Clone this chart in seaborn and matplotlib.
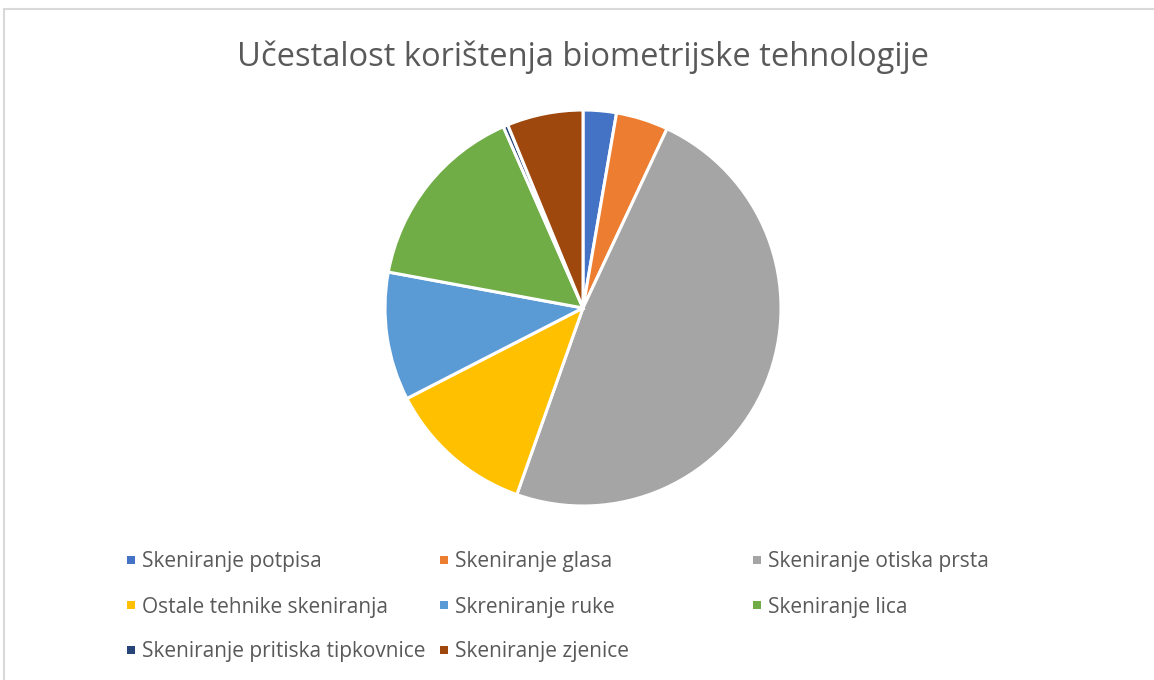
import matplotlib
matplotlib.use("Agg")
import matplotlib.pyplot as plt
from matplotlib.patches import Rectangle
import seaborn as sns

labels = ["Skeniranje potpisa", "Skeniranje glasa", "Skeniranje otiska prsta",
          "Ostale tehnike skeniranja", "Skreniranje ruke", "Skeniranje lica",
          "Skeniranje pritiska tipkovnice", "Skeniranje zjenice"]
values = [7, 11, 125, 31, 27, 40, 1, 16]
colors = ["#4472C4", "#ED7D31", "#A5A5A5", "#FFC000", "#5B9BD5", "#70AD47", "#264478", "#9E480E"]
title = "Učestalost korištenja biometrijske tehnologije"

sns.set_theme(style="white")
plt.rcParams['font.family'] = ['Open Sans', 'DejaVu Sans']
palette = sns.color_palette(colors)

W, H = 1154, 680
fig = plt.figure(figsize=(W / 100, H / 100), dpi=100)
fig.patch.set_facecolor("white")

# outer chart border
fig.add_artist(Rectangle((4 / W, -0.01), 1.1, (H - 9) / H + 0.01, transform=fig.transFigure,
                         fill=False, edgecolor="#D9D9D9", linewidth=1.5))

cx, cy, r = 583, 308, 198
ax = fig.add_axes([(cx - r) / W, (H - cy - r) / H, 2 * r / W, 2 * r / H])
ax.pie(values, colors=palette, startangle=90, counterclock=False, radius=1,
       wedgeprops=dict(edgecolor="white", linewidth=2.2, clip_on=False))
ax.set_xlim(-1.0, 1.0)
ax.set_ylim(-1.0, 1.0)
ax.set_aspect("equal")
ax.axis("off")

fig.text(583 / W, 1 - 57 / H, title, ha="center", va="center", fontsize=23.5, color="#595959")

col_x = [127, 440, 753]
row_y = [560, 605, 650]
for i, lab in enumerate(labels):
    c, rr = i % 3, i // 3
    x, y = col_x[c], row_y[rr]
    fig.add_artist(Rectangle((x / W, (H - y - 4) / H), 8 / W, 8 / H, transform=fig.transFigure,
                             facecolor=palette[i], edgecolor="none"))
    fig.text((x + 15) / W, (H - y - 2) / H, lab, ha="left", va="center", fontsize=15, color="#595959")

fig.savefig("out.png", dpi=100, facecolor="white")
